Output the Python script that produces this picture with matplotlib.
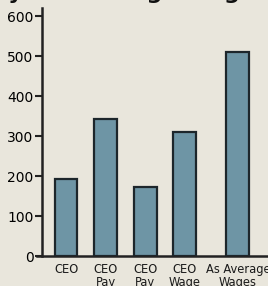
import matplotlib
matplotlib.use("Agg")
import matplotlib.pyplot as plt

categories = ["CEO", "CEO\nPay", "CEO\nPay", "CEO\nWage", "As Average\nWages"]
values = [192, 342, 172, 310, 510]
positions = [0, 1, 2, 3, 4.35]
yticks = [0, 100, 200, 300, 400, 500, 600]

bg = "#e9e6dc"
bar_color = "#6e95a5"
edge = "#1d262b"

fig = plt.figure(figsize=(2.68, 2.86), dpi=100, facecolor=bg)
ax = fig.add_axes([37/268, 30/286, 1 - 37/268, 248/286], facecolor=bg)

ax.bar(positions, values, width=0.58, color=bar_color, edgecolor=edge, linewidth=1.6, zorder=3)

ax.set_xlim(-0.734, 5.11)
ax.set_ylim(0, 620)
ax.set_yticks(yticks)
ax.set_yticklabels([str(t) for t in yticks], fontsize=9.5, color="#222222", fontweight="bold",
                   family=["Liberation Sans Narrow", "Liberation Sans", "DejaVu Sans"])
ax.set_xticks(positions)
ax.set_xticklabels(categories, fontsize=9.2, color="#1a1a1a", linespacing=1.0,
                   family=["DejaVu Sans"], fontstretch="condensed")
ax.tick_params(axis="x", length=0, pad=5)
ax.tick_params(axis="y", length=5, width=1.5, color="#222222", direction="out", pad=1)

for s in ["top", "right"]:
    ax.spines[s].set_visible(False)
ax.spines["left"].set_position(("data", -0.61))
ax.spines["left"].set_linewidth(1.8)
ax.spines["left"].set_color("#222222")
ax.spines["bottom"].set_linewidth(1.8)
ax.spines["bottom"].set_color("#222222")

ax.set_ylabel("Multiple of Average Wages", fontsize=9, fontweight="bold", color="#333333")
ax.yaxis.set_label_coords(-0.158, 0.5)

fig.text(1.0, 1 + 1/286, "CEO Pay vs. Average Wages", ha="right", va="baseline",
         fontsize=16, fontweight="bold", color="#111111")

fig.savefig("out.png", dpi=100, facecolor=bg)
